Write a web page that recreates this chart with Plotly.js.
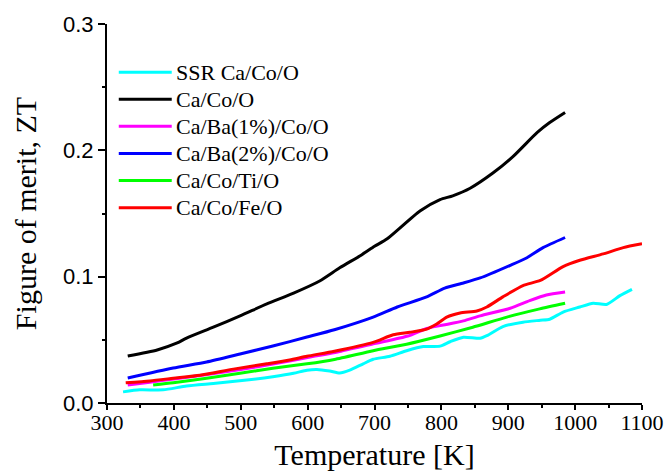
<!DOCTYPE html>
<html>
<head>
<meta charset="utf-8">
<script src="https://cdn.plot.ly/plotly-3.0.1.min.js"></script>
<style>
  html, body { margin: 0; padding: 0; background: #fff; }
  #chart { width: 669px; height: 471px; }
</style>
</head>
<body>
<div id="chart"></div>
<script>
// Figure of merit ZT versus temperature for the cobaltite samples
const seriesNames = ["SSR Ca/Co/O", "Ca/Co/O", "Ca/Ba(1%)/Co/O", "Ca/Ba(2%)/Co/O", "Ca/Co/Ti/O", "Ca/Co/Fe/O"];
const seriesColors = ["#00ffff", "#000000", "#ff00ff", "#0000ff", "#00ff00", "#ff0000"];

const ssrT  = [324, 349, 384, 419, 459, 509, 548, 579, 599, 614, 633, 648, 663, 683, 698, 723, 748, 773, 798, 813, 833, 858, 868, 892, 922, 948, 962, 982, 1007, 1027, 1047, 1067, 1085];
const ssrZT = [0.0088, 0.0104, 0.0104, 0.0135, 0.0155, 0.0182, 0.0208, 0.0235, 0.026, 0.0266, 0.0253, 0.0237, 0.026, 0.031, 0.0346, 0.037, 0.0414, 0.0447, 0.045, 0.0485, 0.0521, 0.0512, 0.0533, 0.0605, 0.064, 0.0655, 0.0663, 0.072, 0.076, 0.079, 0.078, 0.085, 0.090];

const caCoT  = [331, 375, 405, 419, 459, 499, 539, 579, 618, 648, 680, 700, 719, 768, 798, 817, 843, 877, 907, 943, 962, 985];
const caCoZT = [0.0372, 0.042, 0.0475, 0.0514, 0.060, 0.0689, 0.0784, 0.087, 0.0966, 0.107, 0.117, 0.124, 0.130, 0.152, 0.161, 0.164, 0.170, 0.182, 0.195, 0.214, 0.222, 0.230];

const ba1T  = [331, 364, 400, 450, 500, 550, 600, 650, 700, 750, 778, 803, 833, 858, 903, 932, 957, 985];
const ba1ZT = [0.0142, 0.0165, 0.019, 0.0225, 0.0265, 0.031, 0.036, 0.041, 0.047, 0.053, 0.059, 0.0617, 0.065, 0.069, 0.075, 0.081, 0.0855, 0.0878];

const ba2T  = [331, 399, 449, 499, 548, 599, 640, 698, 734, 778, 805, 833, 858, 903, 928, 952, 985];
const ba2ZT = [0.0198, 0.0277, 0.0325, 0.0388, 0.0451, 0.0522, 0.058, 0.068, 0.076, 0.084, 0.091, 0.095, 0.099, 0.109, 0.115, 0.123, 0.131];

const tiT  = [369, 399, 449, 499, 548, 599, 640, 698, 748, 798, 847, 898, 947, 985];
const tiZT = [0.0142, 0.016, 0.0196, 0.0235, 0.0275, 0.031, 0.0345, 0.0414, 0.0465, 0.053, 0.060, 0.068, 0.0745, 0.079];

const feT  = [328, 364, 399, 439, 489, 539, 573, 599, 640, 698, 728, 753, 778, 793, 808, 828, 853, 868, 892, 922, 948, 982, 1007, 1042, 1072, 1100];
const feZT = [0.016, 0.0175, 0.0196, 0.022, 0.0268, 0.031, 0.034, 0.037, 0.041, 0.048, 0.054, 0.056, 0.0585, 0.0625, 0.068, 0.0713, 0.0728, 0.076, 0.084, 0.093, 0.097, 0.108, 0.113, 0.118, 0.123, 0.126];

const xTicks = [300, 400, 500, 600, 700, 800, 900, 1000, 1100];
const yTicks = [0.0, 0.1, 0.2, 0.3];

const seriesX = [ssrT, caCoT, ba1T, ba2T, tiT, feT];
const seriesY = [ssrZT, caCoZT, ba1ZT, ba2ZT, tiZT, feZT];

const traces = seriesNames.map((name, i) => ({
  type: "scatter",
  mode: "lines",
  name: name,
  x: seriesX[i],
  y: seriesY[i],
  line: { color: seriesColors[i], width: 3, shape: "spline", smoothing: 0.6 },
  showlegend: false,
  hoverinfo: "skip"
}));

const serif = "Liberation Serif, Times New Roman, serif";
const sans = "Liberation Sans, Arial, sans-serif";

// Hand-drawn legend: a short line sample and a label per series
const legendShapes = [];
const legendNotes = [];
const legX0 = 0.022, legX1 = 0.121, legTextX = 0.125;
const legTop = 0.873, legStep = 0.0715;
seriesNames.forEach((name, i) => {
  const yy = legTop - i * legStep;
  legendShapes.push({
    type: "line", xref: "paper", yref: "paper",
    x0: legX0, x1: legX1, y0: yy, y1: yy,
    line: { color: seriesColors[i], width: 3 }
  });
  legendNotes.push({
    xref: "paper", yref: "paper", x: legTextX, y: yy,
    xanchor: "left", yanchor: "middle", showarrow: false,
    text: name,
    font: { family: serif, size: 22, color: "#000" }
  });
});

const layout = {
  width: 669,
  height: 471,
  margin: { l: 107, r: 27, t: 24, b: 68 },
  paper_bgcolor: "#ffffff",
  plot_bgcolor: "#ffffff",
  showlegend: false,
  xaxis: {
    range: [300, 1100],
    tickvals: xTicks,
    ticktext: xTicks.map(String),
    ticks: "outside", ticklen: 5, tickwidth: 2, tickcolor: "#000",
    ticklabelstandoff: -6,
    minor: { dtick: 50, ticks: "outside", ticklen: 3, tickwidth: 2, tickcolor: "#000" },
    showline: true, linecolor: "#000", linewidth: 2,
    showgrid: false, zeroline: false,
    tickfont: { family: serif, size: 22, color: "#000" },
    title: { text: "Temperature [K]", font: { family: serif, size: 30, color: "#000" }, standoff: 11 }
  },
  yaxis: {
    range: [0, 0.3],
    tickvals: yTicks,
    ticktext: yTicks.map(v => v.toFixed(1)),
    ticks: "outside", ticklen: 7, tickwidth: 2, tickcolor: "#000",
    minor: { dtick: 0.05, ticks: "outside", ticklen: 3, tickwidth: 2, tickcolor: "#000" },
    showline: true, linecolor: "#000", linewidth: 2,
    showgrid: false, zeroline: false,
    tickfont: { family: sans, size: 22, color: "#000" },
    title: { text: "Figure of merit, ZT", font: { family: serif, size: 30, color: "#000" }, standoff: 18 }
  },
  xaxis2: {
    overlaying: "x", matches: "x", side: "top",
    range: [300, 1100],
    tickvals: xTicks, showticklabels: false,
    ticks: "inside", ticklen: 7, tickwidth: 2, tickcolor: "#000",
    minor: { dtick: 50, ticks: "inside", ticklen: 4, tickwidth: 2, tickcolor: "#000" },
    showline: true, linecolor: "#000", linewidth: 2,
    showgrid: false, zeroline: false
  },
  yaxis2: {
    overlaying: "y", matches: "y", side: "right",
    range: [0, 0.3],
    tickvals: yTicks, showticklabels: false,
    ticks: "inside", ticklen: 7, tickwidth: 2, tickcolor: "#000",
    minor: { dtick: 0.05, ticks: "inside", ticklen: 4, tickwidth: 2, tickcolor: "#000" },
    showline: true, linecolor: "#000", linewidth: 2,
    showgrid: false, zeroline: false
  },
  shapes: legendShapes,
  annotations: legendNotes
};

Plotly.newPlot("chart", traces, layout, { displayModeBar: false, staticPlot: true });
</script>
</body>
</html>
